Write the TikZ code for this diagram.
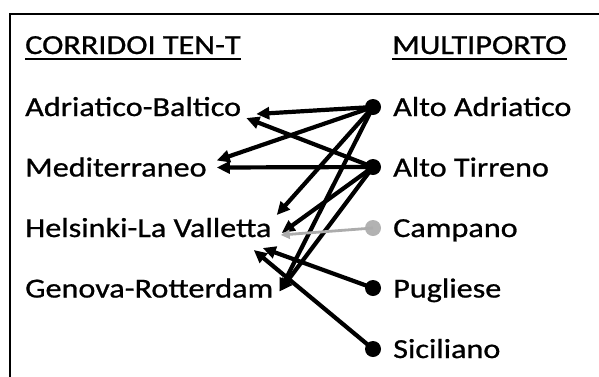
\documentclass[tikz,border=0pt]{standalone}
\usepackage{fontspec}
\setmainfont{Carlito}
\usetikzlibrary{arrows.meta}
\begin{document}
\begin{tikzpicture}[x=1pt, y=-1pt,
	lbl/.style={anchor=base west, inner sep=0pt, xscale=1.17, font=\fontsize{27.5}{30}\selectfont\addfontfeature{FakeBold=0.8}},
	port/.style={circle, fill=black, inner sep=0pt, minimum size=16pt},
	link/.style={line width=4.2pt, -{Triangle[length=13pt,width=12pt]}},
	weak/.style={line width=2.8pt, gray!65, -{Triangle[length=9pt,width=9pt]}}]
	\useasboundingbox (0,0) rectangle (599,376);
	\clip (0,0) rectangle (599,376);

	% Frame
	\draw[line width=1.8pt] (10,390) -- (10,14) -- (620,14);

	% Headings
	\node[lbl] (corr) at (25,54) {CORRIDOI TEN-T};
	\node[lbl] (mult) at (392,54) {MULTIPORTO};
	\draw[line width=2.4pt] ([yshift=-5pt]corr.base west) -- ([yshift=-5pt]corr.base east);
	\draw[line width=2.4pt] ([yshift=-5pt]mult.base west) -- ([yshift=-5pt]mult.base east);

	% Corridoi
	\node[lbl] (ab) at (25,116) {Adriatico-Baltico};
	\node[lbl] (med) at (25,176.5) {Mediterraneo};
	\node[lbl] (hk) at (25,237) {Helsinki-La Valletta};
	\node[lbl] (gr) at (25,297.5) {Genova-Rotterdam};

	% Multiporto
	\node[lbl] (aa) at (393,116) {Alto Adriatico};
	\node[lbl] (at) at (393,176.5) {Alto Tirreno};
	\node[lbl] (cp) at (393,237) {Campano};
	\node[lbl] (pu) at (393,297.5) {Pugliese};
	\node[lbl] (si) at (393,358) {Siciliano};

	\node[port] (daa) at (373,107) {};
	\node[port] (dat) at (373,167) {};
	\node[port, fill=gray!60] (dcp) at (373,228) {};
	\node[port] (dpu) at (373,288) {};
	\node[port] (dsi) at (373,349) {};

	% Alto Adriatico
	\draw[link] (daa.center) -- ([shift={(15,-2)}]ab.base east);
	\draw[link] (daa.center) -- ([shift={(10,-16)}]med.base east);
	\draw[link] (daa.center) -- ([shift={(5,-22)}]hk.base east);
	\draw[link] (daa.center) -- ([shift={(6,-6)}]gr.base east);

	% Alto Tirreno
	\draw[link] (dat.center) -- ([shift={(5,2)}]ab.base east);
	\draw[link] (dat.center) -- ([shift={(10,-9)}]med.base east);
	\draw[link] (dat.center) -- ([shift={(10,-4)}]hk.base east);
	\draw[link] (dat.center) -- ([shift={(6,-6)}]gr.base east);

	% Campano, Pugliese, Siciliano
	\draw[weak] (dcp.center) -- ([shift={(9,-2)}]hk.base east);
	\draw[link] (dpu.center) -- ([shift={(-9,11)}]hk.base east);
	\draw[link] (dsi.center) -- ([shift={(-18,13)}]hk.base east);
\end{tikzpicture}
\end{document}
